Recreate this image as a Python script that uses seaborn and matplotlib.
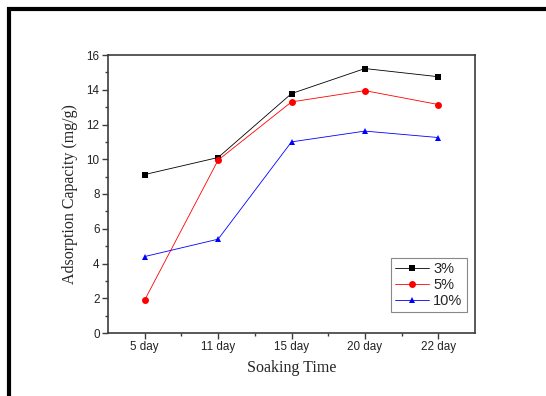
import numpy as np
import pandas as pd
import matplotlib
matplotlib.use("Agg")
import matplotlib.pyplot as plt
from matplotlib.patches import Rectangle
from matplotlib.ticker import MultipleLocator, FixedLocator
import seaborn as sns

days = ["5 day", "11 day", "15 day", "20 day", "22 day"]
conc_3 = [9.12, 10.1, 13.78, 15.22, 14.75]
conc_5 = [1.9, 9.95, 13.3, 13.95, 13.15]
conc_10 = [4.4, 5.4, 11.0, 11.62, 11.25]
series = ["3%", "5%", "10%"]
colors = {"3%": "black", "5%": "red", "10%": "blue"}
markers = {"3%": "s", "5%": "o", "10%": "^"}

df = pd.DataFrame({
    "day": days * 3,
    "value": conc_3 + conc_5 + conc_10,
    "conc": [s for s in series for _ in days],
})

sns.set_style("white")
plt.rcParams["font.family"] = ["Liberation Sans", "DejaVu Sans"]

fig = plt.figure(figsize=(5.46, 3.96), dpi=100)
ax = fig.add_axes([108 / 546, 63 / 396, 367 / 546, 278 / 396])

sns.lineplot(data=df, x="day", y="value", hue="conc", style="conc",
             palette=colors, markers=markers, dashes=False, sort=False,
             linewidth=0.6, markersize=5, markeredgewidth=0, ax=ax)

ax.set_xlim(-0.5, 4.5)
ax.set_ylim(0, 16)
ax.yaxis.set_major_locator(MultipleLocator(2))
ax.yaxis.set_minor_locator(MultipleLocator(1))
ax.xaxis.set_minor_locator(FixedLocator([0.5, 1.5, 2.5, 3.5]))

spine_col = "#3c3c3c"
for s in ax.spines.values():
    s.set_color(spine_col)
    s.set_linewidth(1.2)
ax.tick_params(which="both", direction="out", color=spine_col, width=1.0,
               left=True, bottom=True, top=False, right=False,
               labelsize=8.4, labelcolor="#222222")
ax.tick_params(which="major", length=4, pad=2)
ax.tick_params(which="minor", length=2.2)

ax.set_xlabel("Soaking Time", family=["Liberation Serif"], fontsize=11.5,
              labelpad=5)
ax.set_ylabel("Adsorption Capacity (mg/g)", family=["Liberation Serif"],
              fontsize=11.5, labelpad=6)

handles, labels = ax.get_legend_handles_labels()
leg = ax.legend(handles, labels, loc="lower right",
                bbox_to_anchor=(0.978, 0.0755), borderaxespad=0,
                fontsize=10.5, handlelength=2.3, handletextpad=0.3,
                labelspacing=0.12, borderpad=0.3, fancybox=False,
                frameon=True, edgecolor="#888888", framealpha=1)
leg.get_frame().set_linewidth(0.8)

# outer black frame (top and left edges visible)
fig.patches.append(Rectangle((8.5 / 546, -0.2), 1.5, 1.2 - 8.5 / 396,
                             transform=fig.transFigure, fill=False,
                             edgecolor="black", linewidth=3.0))

fig.savefig("out.png", dpi=100)
